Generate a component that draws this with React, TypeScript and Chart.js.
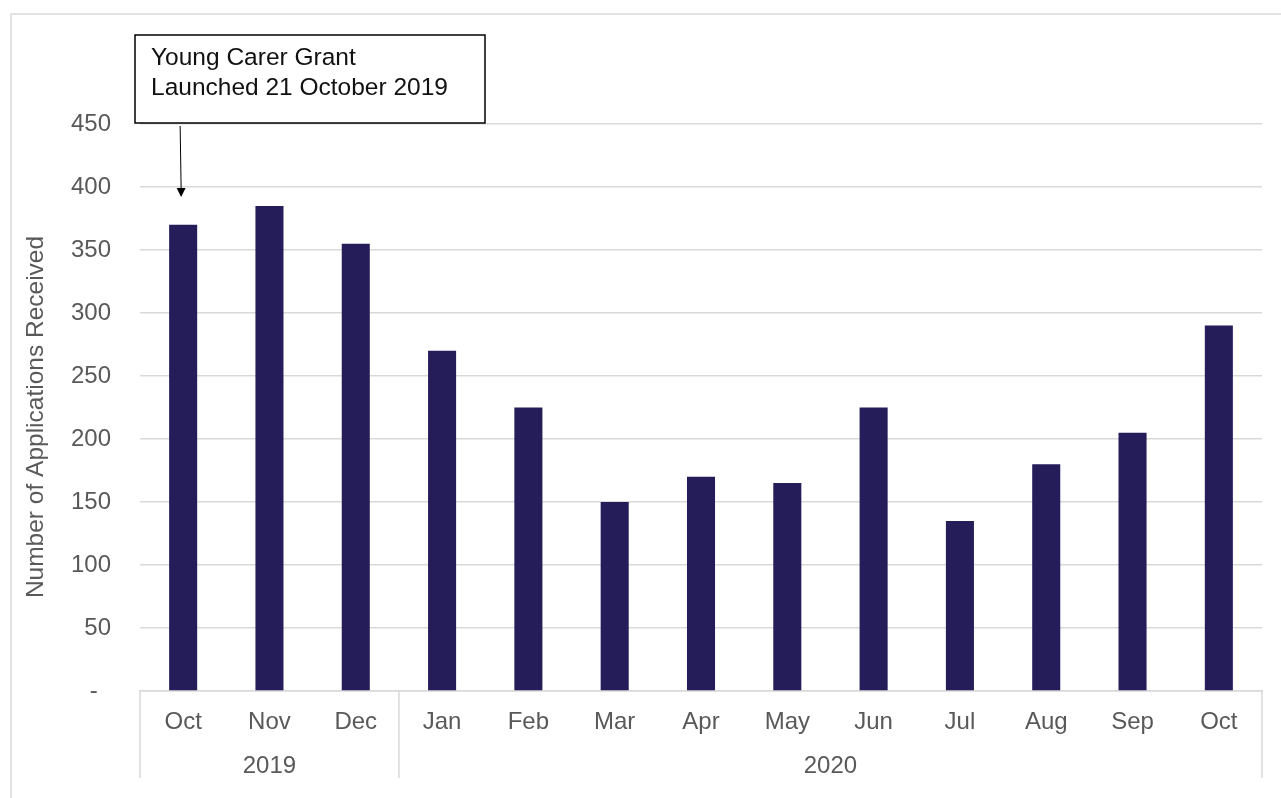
import React, { useEffect, useRef } from "react";
import { Chart, registerables } from "chart.js";

Chart.register(...registerables);

const months = ["Oct", "Nov", "Dec", "Jan", "Feb", "Mar", "Apr", "May", "Jun", "Jul", "Aug", "Sep", "Oct"];
const years = ["2019", "2020"];
const yearSpans = [3, 10];
const applications = [370, 385, 355, 270, 225, 150, 170, 165, 225, 135, 180, 205, 290];
const yTickStep = 50;
const yMax = 450;
const yTitle = "Number of Applications Received";
const annotationLines = ["Young Carer Grant", "Launched 21 October 2019"];

const FONT = "Arial, 'Liberation Sans', sans-serif";
const GRAY = "#595959";
const GRID = "#d9d9d9";

const overlay = {
  id: "overlay",
  afterDraw(chart: any) {
    const ctx = chart.ctx;
    const x = chart.scales.x;
    const area = chart.chartArea;
    ctx.save();
    // outer frame
    ctx.strokeStyle = GRID;
    ctx.lineWidth = 1.5;
    ctx.beginPath();
    ctx.moveTo(1281, 14);
    ctx.lineTo(11, 14);
    ctx.lineTo(11, 798);
    ctx.stroke();

    // y title
    ctx.fillStyle = GRAY;
    ctx.font = `24.5px ${FONT}`;
    ctx.textAlign = "center";
    ctx.textBaseline = "middle";
    ctx.save();
    ctx.translate(36, 417);
    ctx.rotate(-Math.PI / 2);
    ctx.fillText(yTitle, 0, 0);
    ctx.restore();

    // group separators and year labels
    const half = (x.getPixelForValue(1) - x.getPixelForValue(0)) / 2;
    let start = 0;
    const seps: number[] = [area.left];
    ctx.strokeStyle = GRID;
    ctx.lineWidth = 1.5;
    yearSpans.forEach((span, i) => {
      const l = x.getPixelForValue(start) - half;
      const r = x.getPixelForValue(start + span - 1) + half;
      seps.push(r);
      ctx.fillStyle = GRAY;
      ctx.font = `24px ${FONT}`;
      ctx.textAlign = "center";
      ctx.textBaseline = "middle";
      ctx.fillText(years[i], (l + r) / 2, 766);
      start += span;
    });
    seps.forEach((sx) => {
      ctx.beginPath();
      ctx.moveTo(sx, area.bottom);
      ctx.lineTo(sx, 778);
      ctx.stroke();
    });

    // annotation box
    ctx.fillStyle = "#ffffff";
    ctx.fillRect(135, 35, 350, 88);
    ctx.strokeStyle = "#000000";
    ctx.lineWidth = 1.5;
    ctx.strokeRect(135, 35, 350, 88);
    ctx.fillStyle = "#111111";
    ctx.font = `24.5px ${FONT}`;
    ctx.textAlign = "left";
    ctx.textBaseline = "alphabetic";
    ctx.fillText(annotationLines[0], 151, 65);
    ctx.fillText(annotationLines[1], 151, 95);

    // arrow
    const ax = x.getPixelForValue(0) - 2;
    ctx.strokeStyle = "#000000";
    ctx.lineWidth = 1;
    ctx.beginPath();
    ctx.moveTo(ax - 1, 126);
    ctx.lineTo(ax, 190);
    ctx.stroke();
    ctx.fillStyle = "#000000";
    ctx.beginPath();
    ctx.moveTo(ax - 4.5, 188);
    ctx.lineTo(ax + 4.5, 188);
    ctx.lineTo(ax, 197);
    ctx.closePath();
    ctx.fill();
    ctx.restore();
  },
};

export default function App() {
  const ref = useRef<HTMLCanvasElement>(null);
  useEffect(() => {
    if (!ref.current) return;
    const chart = new Chart(ref.current, {
      type: "bar",
      data: {
        labels: months,
        datasets: [
          {
            data: applications,
            backgroundColor: "#251c5a",
            categoryPercentage: 1,
            barPercentage: 0.325,
          },
        ],
      },
      options: {
        responsive: false,
        animation: false,
        devicePixelRatio: 1,
        layout: { padding: { top: 124, right: 19, left: 0, bottom: 0 } },
        plugins: { legend: { display: false }, tooltip: { enabled: false } },
        scales: {
          x: {
            grid: { display: false, drawTicks: false },
            border: { display: true, color: GRID, width: 1.5 },
            ticks: { color: GRAY, font: { size: 24, family: FONT }, padding: 17, maxRotation: 0, autoSkip: false },
            afterFit(s: any) {
              s.height = 107;
            },
          },
          y: {
            min: 0,
            max: yMax,
            grid: { color: GRID, lineWidth: 1.5, drawTicks: false },
            border: { display: false },
            ticks: {
              stepSize: yTickStep,
              color: GRAY,
              font: { size: 24, family: FONT },
              padding: 29,
              callback: (v: any) => (Number(v) === 0 ? "-  " : String(v)),
            },
            afterFit(s: any) {
              s.width = 140;
            },
          },
        },
      },
      plugins: [overlay],
    });
    return () => chart.destroy();
  }, []);
  return (
    <div style={{ position: "absolute", left: 0, top: 0, width: 1281, height: 798, background: "#fff" }}>
      <canvas ref={ref} width={1281} height={798} />
    </div>
  );
}
